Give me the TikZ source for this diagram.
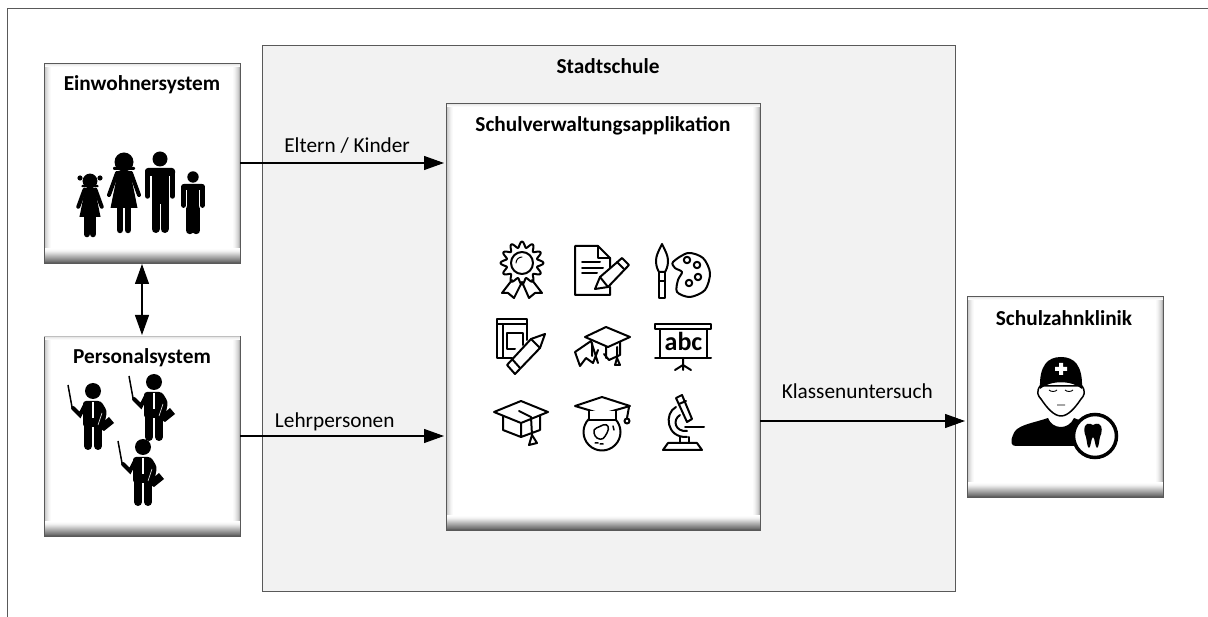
\documentclass[tikz,border=0pt]{standalone}
\usepackage{fontspec}
\setmainfont{Carlito}
\usetikzlibrary{arrows.meta,positioning}

\definecolor{kante}{HTML}{595959}
\definecolor{hof}{HTML}{F2F2F2}

\tikzset{
  sysbox/.style={draw=kante,fill=white,line width=.9pt,inner sep=0pt,outer sep=0pt,
    path picture={
      \foreach \w/\t in {7/2,6/4,5/7,4/11,3/15,2/20,1/30} {%
        \fill[black!\t] (path picture bounding box.north west) rectangle ([xshift=\w pt]path picture bounding box.south west);
        \fill[black!\t] (path picture bounding box.north east) rectangle ([xshift=-\w pt]path picture bounding box.south east);
      }
      \foreach \w/\t in {4/2,3/5,2/9,1/14} {%
        \fill[black!\t] (path picture bounding box.north west) rectangle ([yshift=-\w pt]path picture bounding box.north east);
      }
      \foreach \w/\t in {15/0,14/1,13/3,12/6,11/10,10/15,9/20,8/25,7/30,6/35,5/40,4/45,3/50,2/55,1/62} {%
        \fill[black!\t] (path picture bounding box.south west) rectangle ([yshift=\w pt]path picture bounding box.south east);
      }
    }},
  boxtitle/.style={font=\bfseries\fontsize{21.3}{24}\selectfont,inner sep=0pt},
  flow/.style={-{Triangle[length=20pt,width=14pt]},line width=1.1pt,shorten >=2pt},
  flowboth/.style={{Triangle[length=20pt,width=14pt]}-{Triangle[length=20pt,width=14pt]},line width=1.1pt,shorten >=1pt,shorten <=1pt},
  flowlabel/.style={font=\fontsize{21.3}{24}\selectfont,inner sep=0pt},
  icon/.style={line width=2pt,line join=round,line cap=round},
  manfig/.pic={
    \fill (0,0) circle (7.5);
    \fill[rounded corners=3] (-15,9) rectangle (15,17);
    \fill (-8.5,11) rectangle (8.5,45);
    \draw[line width=5.5pt,line cap=round] (-12.3,13) -- (-12.3,37) (12.3,13) -- (12.3,37);
    \draw[line width=8pt,line cap=round] (-4.5,42) -- (-4.5,70) (4.5,42) -- (4.5,70);
  },
  ladyfig/.pic={
    \fill (0,0) circle (9.5);
    \fill[rounded corners=1] (-11,5) rectangle (11,8);
    \fill (-6,9) -- (6,9) -- (13.5,46) -- (-13.5,46) -- cycle;
    \draw[line width=4pt,line cap=round] (-7,11) -- (-15,33) (7,11) -- (15,33);
    \draw[line width=6.5pt,line cap=round] (-4,46) -- (-4,68) (4,46) -- (4,68);
  },
  teacherfig/.pic={
    \fill (0,0) circle (8);
    \fill[rounded corners=3] (-10,10) -- (8,10) -- (14,20) -- (11,36) -- (-10,36) -- cycle;
    \draw[line width=8pt,line cap=round] (-5,32) -- (-5,55) (5,32) -- (5,55);
    \draw[line width=4pt,line cap=round] (-8,14) -- (-13,24) -- (-20,17);
    \draw[line width=1.5pt] (-21,16) -- (-25,-6);
    \draw[white,line width=1.4pt] (0,11) -- (0,27);
    \fill (4,36) -- (16,26) -- (21,32) -- (11,40) -- cycle;
    \draw[white,line width=.5pt] (5,34) -- (9,22);
  }
}

\begin{document}
\begin{tikzpicture}[x=1pt,y=-1pt]
  \useasboundingbox (0,0) rectangle (1208,617);
  % frame
  \draw[kante,line width=.9pt] (7,617) -- (7,8) -- (1208,8);

  % boxes
  \node[draw=kante,fill=hof,line width=.9pt,inner sep=0pt,outer sep=0pt,minimum width=693pt,minimum height=546pt] (stadtschule) at (608.5,318) {};
  \node[sysbox,minimum width=196pt,minimum height=200pt] (einwohner) at (142,163) {};
  \node[sysbox,minimum width=196pt,minimum height=200pt] (personal) at (142,436) {};
  \node[sysbox,minimum width=314pt,minimum height=427pt] (appl) at (603,316.5) {};
  \node[sysbox,minimum width=196pt,minimum height=201pt] (klinik) at (1065,396.5) {};
  \draw[black!25,line width=.9pt] (personal.north west) -- (personal.north east);

  \node[boxtitle] (stadttitel) at (608,66) {Stadtschule};
  \node[boxtitle] (einwohnertitel) at (142,85) {Einwohnersystem};
  \node[boxtitle] (personaltitel) at (142,358) {Personalsystem};
  \node[boxtitle] (appltitel) at (603,126) {Schulverwaltungsapplikation};
  \node[boxtitle] (kliniktitel) at (1064,318) {Schulzahnklinik};

  % connectors
  \coordinate (klinikport) at (967,421);
  \draw[flow] (einwohner) -- node[flowlabel,pos=.52,yshift=17pt] (elternlabel) {Eltern / Kinder} (einwohner -| appl.west);
  \draw[flow] (personal) -- node[flowlabel,pos=.46,yshift=14pt] (lehrerlabel) {Lehrpersonen} (personal -| appl.west);
  \draw[flow] (appl.east |- klinikport) -- node[flowlabel,pos=.47,yshift=30pt] (klassenlabel) {Klassenuntersuch} (klinikport);
  \draw[flowboth] (einwohner) -- (personal);

  % family
  \pic[scale=.78] at (90,181) {ladyfig};
  \fill (80,178) circle (2.6) (100,178) circle (2.6);
  \pic at (124,162) {ladyfig};
  \pic at (160,159) {manfig};
  \pic[scale=.76] at (193,177) {manfig};

  % teachers
  \pic at (93,391) {teacherfig};
  \pic at (154,382) {teacherfig};
  \pic at (143,447) {teacherfig};

  % dentist
  \fill (1048,418) .. controls (1052,429) and (1068,431) .. (1074,418) -- (1092,425) -- (1092,446) -- (1016,446) .. controls (1011,446) and (1010,442) .. (1013,435) .. controls (1016,425) and (1030,424) .. (1048,418) -- cycle;
  \draw[fill=white,line width=1.5pt,line join=round] (1040,386) .. controls (1036,392) and (1038,396) .. (1041,399) .. controls (1047,408) and (1054,416) .. (1061,416) .. controls (1068,416) and (1075,408) .. (1081,399) .. controls (1084,396) and (1086,392) .. (1082,386) -- cycle;
  \fill (1040,389) .. controls (1039,365) and (1048,357) .. (1061,357) .. controls (1074,357) and (1083,365) .. (1082,389) .. controls (1072,380) and (1050,380) .. (1040,389) -- cycle;
  \fill[white] (1059,363) rectangle (1063,375) (1055,367) rectangle (1067,371);
  \draw[line width=.9pt] (1049,390) .. controls (1051,392) and (1055,392) .. (1057,390) (1065,390) .. controls (1067,392) and (1071,392) .. (1073,390) (1057,405) -- (1065,405);
  \draw[fill=white,line width=3.5pt] (1095,436) circle (21.5);
  \fill (1087,424) .. controls (1089,423) and (1091,424) .. (1093,425) .. controls (1095,424) and (1097,423) .. (1099,424) .. controls (1103,426) and (1102,433) .. (1100,437) .. controls (1099,441) and (1099,447) .. (1097,448) .. controls (1095,447) and (1095,438) .. (1093,437) .. controls (1091,438) and (1091,447) .. (1089,448) .. controls (1087,447) and (1087,441) .. (1086,437) .. controls (1084,433) and (1083,426) .. (1087,424) -- cycle;

  % rosette
  \draw[icon] plot[smooth,domain=0:360,samples=97] ({522+(18.5+3*cos(12*\x))*cos(\x)},{263+(18.5+3*cos(12*\x))*sin(\x)});
  \draw[icon] (522,263) circle (11);
  \draw[icon,line width=1pt] (516,263) arc (180:270:6);
  \draw[icon] (512,280) -- (502,293) -- (508,293) -- (514,298) -- (522,282) -- (529,298) -- (535,293) -- (542,293) -- (532,280);

  % document and pencil
  \draw[icon] (610,272) -- (610,258) -- (598,246) -- (575,246) -- (575,295) -- (610,295) -- (610,287);
  \draw[icon] (598,246) -- (598,258) -- (610,258);
  \draw[icon] (582,262) -- (600,262) (582,268) -- (603,268) (582,273) -- (597,273);
  \draw[icon,fill=white] (595,289) -- (600,277) -- (622,258) -- (629,265) -- (608,287) -- cycle;
  \draw[icon] (617,262) -- (624,269) (600,277) -- (608,287);

  % brush and palette
  \draw[icon] (662,244) .. controls (658,252) and (656,256) .. (656,261) .. controls (656,267) and (658,270) .. (659,272) -- (665,272) .. controls (666,270) and (668,267) .. (668,261) .. controls (668,256) and (666,252) .. (662,244) -- cycle;
  \draw[icon] (659,272) -- (659,298) -- (665,298) -- (665,272) (659,281) -- (665,281);
  \draw[icon] plot[smooth cycle] coordinates {(673,262) (688,253) (703,258) (710,273) (705,290) (690,297) (677,292) (678,280) (682,272) (675,268)};
  \foreach \x/\y in {687/260,697/265,698/277,689/283} {%
    \draw[icon] (\x,\y) circle (3.2);
  }

  % book and pencil
  \draw[icon] (527,340) -- (527,319) -- (497,319) -- (497,358) -- (512,358);
  \draw[icon] (497,324) -- (527,324) (503,324) -- (503,358) (507,333) -- (523,333) -- (523,345) (507,333) -- (507,349) -- (515,349);
  \draw[icon,fill=white] (545,334) -- (531,339) -- (507,365) -- (515,374) -- (540,348) -- cycle;
  \draw[icon] (512,359) -- (520,368) (531,339) -- (540,348);

  % cap and diploma
  \draw[icon] (575,352) -- (591,341) -- (598,363) (575,352) -- (580,366) (580,366) -- (586,358) -- (593,363) -- (598,350);
  \draw[icon] (592,343) -- (592,356) (620,342) -- (620,355) -- (609,360) -- (604,354) (606,347) -- (606,358);
  \draw[icon,fill=white] (585,337) -- (606,327) -- (630,337) -- (608,347) -- cycle;
  \draw[icon] (617,347) -- (617,358) -- (615,365) -- (620,365) -- (617,358);

  % blackboard
  \draw[icon] (655,324) rectangle (711,329);
  \draw[icon] (660,329) -- (660,358) (707,329) -- (707,358) (655,358) -- (711,358);
  \draw[icon] (683,358) -- (683,370) (683,365) -- (675,370) (683,365) -- (691,370);
  \node[font=\bfseries\fontsize{26}{28}\selectfont,inner sep=0pt] (tafeltext) at (683.5,341) {abc};

  % cap
  \draw[icon] (503,416) -- (503,430) -- (521,437) -- (540,430) -- (540,416) (521,424) -- (521,437);
  \draw[icon] (494,412) -- (521,401) -- (548,412) -- (521,423) -- cycle;
  \draw[icon] (519,411) -- (531,417) -- (532,435) -- (529,445) -- (537,443) -- (532,435);

  % cap and globe
  \draw[icon] (602,432) circle (18.5);
  \draw[icon,fill=white] (575,406) -- (602,397) -- (630,406) -- (602,414) -- cycle;
  \fill[white] (589,411) rectangle (616,419);
  \draw[icon] (589,410) -- (589,420) -- (616,420) -- (616,410);
  \draw[icon] (629,407) -- (627,418);
  \draw[icon] (627,421) circle (2.5);
  \draw[icon,line width=1.5pt] (594,433) .. controls (592,428) and (600,427) .. (603,425) .. controls (608,423) and (610,428) .. (607,433) .. controls (604,438) and (603,441) .. (597,438) .. controls (595,437) and (595,435) .. (594,433) -- cycle;
  \draw[icon,line width=1.5pt] (595,443) -- (598,443) (600,444) -- (603,444) (613,426) -- (614,430);

  % microscope
  \draw[icon] (663,450) -- (702,450) -- (697,443) -- (668,443) -- cycle;
  \draw[icon] (680,443) -- (680,437) (689,443) -- (689,437);
  \draw[icon] (676,407) .. controls (664,413) and (666,438) .. (687,437);
  \draw[icon] (680,415) .. controls (672,420) and (675,432) .. (687,431);
  \draw[icon] (685,427) -- (704,427);
  \draw[icon,fill=white] (676,398) -- (682,395) -- (692,419) -- (687,422) -- cycle;
  \draw[icon] (679,404) -- (686,401);
\end{tikzpicture}
\end{document}
